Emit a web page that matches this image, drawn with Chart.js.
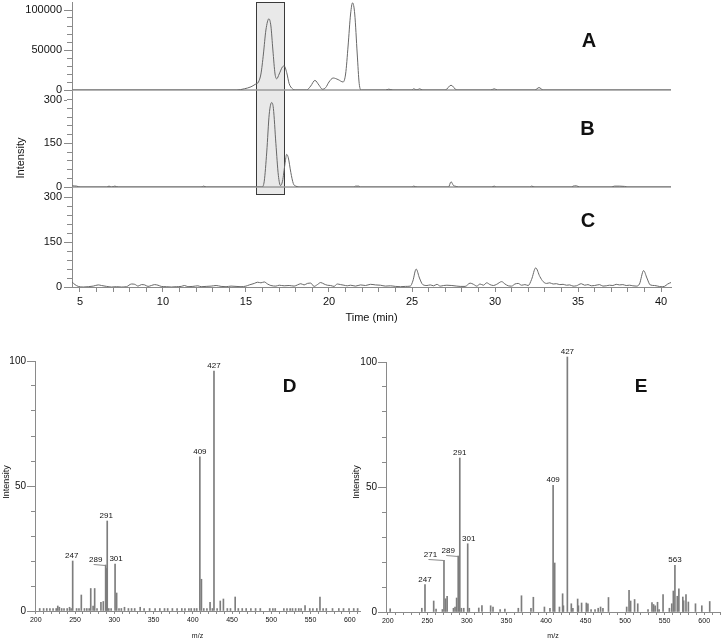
<!DOCTYPE html>
<html><head><meta charset="utf-8">
<script src="https://cdn.jsdelivr.net/npm/chart.js@4.4.1/dist/chart.umd.min.js"></script>
<style>
html,body{margin:0;padding:0;background:#fff;}
#wrap{position:relative;width:722px;height:640px;overflow:hidden;background:#fff;}
.box{position:absolute;}
</style></head><body>
<div id="wrap">
<div class="box" style="left:0;top:0;width:722px;height:330px"><canvas id="chrom"></canvas></div>
<div class="box" style="left:0;top:340px;width:361px;height:300px"><canvas id="specD"></canvas></div>
<div class="box" style="left:340px;top:340px;width:382px;height:300px"><canvas id="specE"></canvas></div>
</div>
<script>
// ---------------- DATA ----------------
// Chromatogram A: [time (min), intensity]
const traceA = [[4.52,0],[14.45,0],[14.9,1500],[15.3,4000],[15.55,7000],[15.75,10000],[15.9,20000],[16.05,45000],[16.2,75000],[16.38,89000],[16.5,80000],[16.62,50000],[16.75,20000],[16.85,14000],[17.0,20000],[17.2,29000],[17.3,30000],[17.45,22000],[17.6,8000],[17.8,1500],[18.0,0],[18.65,0],[18.9,5000],[19.15,12000],[19.4,6000],[19.6,1000],[19.8,3000],[20.0,10000],[20.25,15000],[20.55,13000],[20.85,10000],[21.0,20000],[21.15,55000],[21.3,95000],[21.42,109000],[21.55,95000],[21.7,45000],[21.82,8000],[21.95,0],[23.4,0],[23.6,1000],[23.85,0],[25.0,0],[25.1,1500],[25.3,0],[25.45,1500],[25.65,0],[27.0,0],[27.35,6000],[27.7,0],[29.75,0],[29.95,1500],[30.15,0],[32.4,0],[32.65,3000],[32.9,0],[40.6,0]];
// Chromatogram B
const traceB = [[4.52,4],[4.8,3],[5.0,0],[6.6,0],[6.75,3],[6.9,0],[7.1,3],[7.3,0],[12.3,0],[12.45,3],[12.6,0],[15.95,0],[16.1,20],[16.25,120],[16.4,250],[16.55,290],[16.65,270],[16.8,150],[16.95,40],[17.08,5],[17.2,20],[17.35,80],[17.45,112],[17.55,100],[17.7,50],[17.85,12],[18.0,3],[18.3,0],[21.5,0],[21.6,3],[21.8,3],[21.9,0],[25.0,0],[25.1,3],[25.3,0],[27.2,0],[27.35,18],[27.5,5],[27.6,3],[27.8,0],[29.8,0],[29.95,3],[30.1,0],[32.1,0],[32.2,3],[32.4,0],[34.6,0],[34.7,3],[34.9,4],[35.1,0],[37.0,0],[37.2,3],[37.5,3],[37.8,2],[38.0,0],[40.6,0]];
// Chromatogram C
const traceC = [[4.52,17],[4.7,8],[4.9,2],[5.2,0],[5.5,1],[5.8,3],[6.1,7],[6.3,5],[6.6,2],[6.9,0],[7.2,1],[7.5,0],[7.8,1],[8.1,10],[8.3,9],[8.5,3],[8.7,8],[8.9,7],[9.1,2],[9.3,5],[9.5,8],[9.7,6],[9.9,2],[10.2,1],[10.5,0],[10.8,1],[11.1,2],[11.3,5],[11.5,1],[11.8,2],[12.1,4],[12.3,1],[12.6,2],[12.9,3],[13.2,5],[13.5,2],[13.8,1],[14.1,3],[14.4,2],[14.7,1],[15.0,3],[15.2,7],[15.5,12],[15.7,16],[15.9,14],[16.1,17],[16.3,10],[16.5,5],[16.8,3],[17.0,6],[17.3,4],[17.6,5],[17.9,3],[18.1,7],[18.3,11],[18.5,7],[18.7,12],[18.9,13],[19.1,2],[19.3,8],[19.5,15],[19.7,10],[19.9,6],[20.1,5],[20.3,2],[20.5,10],[20.7,8],[20.9,6],[21.1,4],[21.3,6],[21.6,3],[21.9,7],[22.2,5],[22.5,9],[22.8,7],[23.1,6],[23.4,3],[23.7,4],[24.0,2],[24.3,1],[24.6,2],[24.9,3],[25.05,20],[25.25,60],[25.45,30],[25.65,8],[25.9,5],[26.1,7],[26.3,4],[26.5,9],[26.7,3],[26.9,5],[27.1,6],[27.4,5],[27.7,3],[27.9,2],[28.2,2],[28.5,13],[28.7,9],[28.9,3],[29.1,10],[29.3,6],[29.5,14],[29.7,8],[29.9,5],[30.1,9],[30.4,18],[30.6,10],[30.8,4],[31.0,3],[31.2,10],[31.4,12],[31.6,6],[31.8,8],[32.0,5],[32.2,25],[32.45,64],[32.7,35],[32.9,18],[33.1,12],[33.3,14],[33.5,10],[33.7,11],[33.9,8],[34.1,9],[34.3,6],[34.5,7],[34.7,3],[34.9,4],[35.2,11],[35.4,6],[35.6,8],[35.8,4],[36.0,5],[36.3,8],[36.5,3],[36.7,4],[36.9,6],[37.1,5],[37.3,9],[37.5,7],[37.7,8],[37.9,5],[38.1,6],[38.3,4],[38.5,3],[38.7,10],[38.95,55],[39.15,30],[39.35,7],[39.6,5],[39.8,3],[40.0,1],[40.2,2],[40.4,10],[40.6,15]];
const timeTickLabels = [5,10,15,20,25,30,35,40];
const tickLabelsA = [0,50000,100000];
const tickLabelsBC = [0,150,300];
const highlightStart = 15.58, highlightEnd = 17.29;

// Mass spectra: [m/z, relative intensity]
const spectrumD = [[205,1],[210,1],[214,1],[218,1],[222,1],[226,1],[228,2],[230,1.5],[233,1],[236,1],[240,1],[243,1.5],[245,1],[247,20],[252,1],[255,1],[258,6.4],[262,1],[265,1],[268,1],[270,9],[273,2],[275,9],[278,1],[283,3.5],[286,3.8],[289,18.4],[290,17],[291,36],[293,1],[296,1],[301,18.8],[303,7.2],[306,1],[309,1],[313,1.5],[318,1],[322,1],[326,1],[333,1.5],[338,1],[345,1],[352,1],[358,1],[364,1],[368,1],[374,1],[380,1],[386,1],[390,1],[395,1],[398,1],[402,1],[405,1],[409,61.7],[411,12.7],[414,1],[418,1],[422,3.5],[425,1],[427,96],[431,1],[435,4],[439,4.8],[444,1],[448,1],[454,5.6],[458,1],[463,1],[468,1],[474,1],[480,1],[486,1],[498,1],[502,1],[505,1],[516,1],[520,1],[524,1],[527,1],[531,1],[535,1],[538,1],[543,2.2],[549,1],[553,1],[558,1],[562,5.6],[566,1],[570,1],[578,1],[586,1],[592,1],[599,1],[605,1],[610,1]];
const spectrumE = [[203,1.3],[243,1.5],[247,11],[258,4.4],[261,1.2],[269,1],[271,20.7],[273,5.3],[275,6.3],[283,1.5],[285,2],[287,5.6],[289,22.4],[291,61.6],[293,1.5],[296,1.5],[301,27.3],[303,1.5],[315,1.6],[319,2.6],[330,2.5],[333,2],[342,1],[348,1.2],[365,1.5],[369,6.5],[381,1.5],[384,5.9],[398,2],[405,1.5],[409,50.7],[411,19.6],[417,2],[421,7.3],[422,2.5],[427,102],[432,3.3],[434,1.5],[440,5.2],[441,2.5],[445,3.6],[451,3.6],[453,3.3],[457,1],[462,1],[466,1.5],[469,2],[472,1.5],[479,5.8],[502,2],[505,8.7],[507,4.4],[512,5],[516,3.3],[529,1],[534,3.8],[536,3],[538,2.5],[541,3.9],[543,1],[548,7],[556,1.5],[559,3.3],[561,8.4],[563,18.7],[566,6.3],[568,9.3],[573,6],[574,4.5],[577,7],[580,4],[589,3.3],[597,2.5],[607,4.2]];
const labeledPeaksD = [247,289,291,301,409,427];
const labeledPeaksE = [247,271,289,291,301,409,427,563];
const mzTickLabels = [200,250,300,350,400,450,500,550,600];
const relTickLabels = [0,50,100];

// ---------------- STYLE ----------------
const FONT = "'Liberation Sans', Arial, Helvetica, sans-serif";
const AXIS = '#8a8a8a';
const TEXT = '#111';
const TRACE = '#686868';

function steps(a, b, s) { const r = []; for (let v = a; v <= b + 1e-9; v += s) r.push(+v.toFixed(6)); return r; }
const toXY = arr => arr.map(([x, y]) => ({x, y}));
function zeroPad(s) { s.paddingTop = 0; s.paddingBottom = 0; s.paddingLeft = 0; s.paddingRight = 0; }
function vText(ctx, text, x, y, font) {
  ctx.save(); ctx.translate(x, y); ctx.rotate(-Math.PI / 2);
  ctx.font = font; ctx.fillStyle = TEXT; ctx.textAlign = 'center'; ctx.textBaseline = 'middle';
  ctx.fillText(text, 0, 0); ctx.restore();
}
function hText(ctx, text, x, y, font) {
  ctx.save(); ctx.font = font; ctx.fillStyle = TEXT; ctx.textAlign = 'center'; ctx.textBaseline = 'middle';
  ctx.fillText(text, x, y); ctx.restore();
}
function majorTicks(ctx, scale, values, from, to) {
  ctx.save(); ctx.strokeStyle = AXIS; ctx.lineWidth = 1; ctx.beginPath();
  values.forEach(v => { const y = Math.round(scale.getPixelForValue(v)) + 0.5; ctx.moveTo(scale.right - from, y); ctx.lineTo(scale.right - to, y); });
  ctx.stroke(); ctx.restore();
}

// ---------------- CHROMATOGRAMS ----------------
function chromY(max, weight, stackWeight, minorStep, labels) {
  return {
    type: 'linear', position: 'left', stack: 'chrom', stackWeight, weight, min: 0, max,
    afterBuildTicks: s => { s.ticks = steps(0, labels[labels.length - 1], minorStep).map(v => ({value: v})); },
    afterFit: s => { s.width = 72; zeroPad(s); },
    grid: {drawOnChartArea: false, tickLength: 5, color: AXIS, lineWidth: 1},
    border: {color: AXIS, width: 1},
    ticks: {autoSkip: false, padding: 5, font: {size: 11, family: FONT}, color: TEXT,
      callback: v => labels.includes(v) ? String(v) : ''}
  };
}

const chromPlugin = {
  id: 'chromDecor',
  beforeDatasetsDraw(chart) {
    const {ctx, chartArea, scales: {x, yA, yB}} = chart;
    const x0 = Math.round(x.getPixelForValue(highlightStart)) + 0.5;
    const x1 = Math.round(x.getPixelForValue(highlightEnd)) + 0.5;
    const top = Math.round(yA.top) + 0.5, bottom = Math.round(yB.bottom + 7) + 0.5;
    ctx.save();
    ctx.fillStyle = '#e9e9e9'; ctx.fillRect(x0, top, x1 - x0, bottom - top);
    ctx.strokeStyle = '#3a3a3a'; ctx.lineWidth = 1; ctx.strokeRect(x0, top, x1 - x0, bottom - top);
    ctx.strokeStyle = '#9a9a9a'; ctx.lineWidth = 1.5; ctx.beginPath();
    [yA, yB].forEach(s => { const y = s.getPixelForValue(0); ctx.moveTo(chartArea.left, y); ctx.lineTo(chartArea.right, y); });
    ctx.stroke(); ctx.restore();
  },
  afterDraw(chart) {
    const {ctx, scales: {yA, yB, yC}} = chart;
    majorTicks(ctx, yA, tickLabelsA, 8, 5);
    majorTicks(ctx, yB, tickLabelsBC, 8, 5);
    majorTicks(ctx, yC, tickLabelsBC, 8, 5);
    vText(ctx, 'Intensity', 21, 158, `11px ${FONT}`);
    const big = `bold 20px ${FONT}`;
    hText(ctx, 'A', 589, 41, big);
    hText(ctx, 'B', 587.5, 129, big);
    hText(ctx, 'C', 588, 221, big);
  }
};

new Chart(document.getElementById('chrom'), {
  type: 'line',
  data: {datasets: [
    {data: toXY(traceA), yAxisID: 'yA'},
    {data: toXY(traceB), yAxisID: 'yB'},
    {data: toXY(traceC), yAxisID: 'yC'}
  ]},
  options: {
    responsive: true, maintainAspectRatio: false, animation: false, events: [],
    layout: {padding: {left: 0, top: 2, right: 51, bottom: 0}},
    plugins: {legend: {display: false}, tooltip: {enabled: false}},
    elements: {point: {radius: 0}, line: {borderWidth: 1, borderColor: TRACE, cubicInterpolationMode: 'monotone', fill: false}},
    scales: {
      x: {
        type: 'linear', position: 'bottom', min: 4.52, max: 40.6,
        afterBuildTicks: s => { s.ticks = steps(5, 40, 1).map(v => ({value: v})); },
        afterFit: s => { s.height = 43; zeroPad(s); },
        grid: {drawOnChartArea: false, tickLength: 5, color: AXIS},
        border: {color: AXIS, width: 1},
        ticks: {autoSkip: false, maxRotation: 0, padding: 3, font: {size: 11, family: FONT}, color: TEXT,
          callback: v => timeTickLabels.includes(v) ? String(v) : ''},
        title: {display: true, text: 'Time (min)', font: {size: 11, family: FONT}, color: TEXT, padding: {top: 0, bottom: 5}}
      },
      yC: chromY(335, 1, 100, 30, tickLabelsBC),
      yB: chromY(333, 2, 97, 30, tickLabelsBC),
      yA: chromY(110000, 3, 88, 10000, tickLabelsA)
    }
  },
  plugins: [chromPlugin]
});

// ---------------- SPECTRA ----------------
function spectrum(id, peaks, labeled, cfg) {
  const peakMap = new Map(peaks.map(([m, v]) => [m, v]));
  const plugin = {
    id: 'spec' + id,
    afterDraw(chart) {
      const {ctx, scales: {x, y}} = chart;
      majorTicks(ctx, y, relTickLabels, 8, 4);
      ctx.save();
      ctx.font = `8px ${FONT}`; ctx.fillStyle = TEXT; ctx.textAlign = 'center'; ctx.textBaseline = 'middle';
      ctx.strokeStyle = '#8a8a8a'; ctx.lineWidth = 1;
      labeled.forEach(m => {
        const px = x.getPixelForValue(m), py = y.getPixelForValue(peakMap.get(m));
        const dx = (cfg.labelDx[m] || 0);
        if (cfg.leaders[m] !== undefined) {
          const lx = px + cfg.leaders[m];
          ctx.beginPath(); ctx.moveTo(lx - 2, Math.round(py - 1) + 0.5); ctx.lineTo(px, Math.round(py) + 0.5); ctx.stroke();
          ctx.fillText(String(m), lx, py - 5);
        } else {
          ctx.fillText(String(m), px + dx, py - 5);
        }
      });
      ctx.restore();
      vText(ctx, 'Intensity', cfg.titleX, 142, `9px ${FONT}`);
      hText(ctx, cfg.letter, cfg.letterX, 47, `bold 19px ${FONT}`);
    }
  };
  return new Chart(document.getElementById(id), {
    type: 'bar',
    data: {datasets: [{data: toXY(peaks), backgroundColor: '#7d7d7d', borderWidth: 0, barThickness: 1, clip: false}]},
    options: {
      responsive: true, maintainAspectRatio: false, animation: false, events: [],
      layout: {padding: {left: 0, top: cfg.top, right: cfg.right, bottom: 0}},
      plugins: {legend: {display: false}, tooltip: {enabled: false}},
      scales: {
        x: {
          type: 'linear', offset: false, min: cfg.xmin, max: cfg.xmax,
          afterBuildTicks: s => { s.ticks = steps(200, cfg.lastTick, 10).map(v => ({value: v})); },
          afterFit: s => { s.height = cfg.xh; zeroPad(s); },
          grid: {offset: false, drawOnChartArea: false, tickLength: 3, color: AXIS},
          border: {color: AXIS, width: 1},
          ticks: {autoSkip: false, maxRotation: 0, padding: 2, font: {size: 7, family: FONT}, color: TEXT,
            callback: v => mzTickLabels.includes(v) ? String(v) : ''},
          title: {display: true, text: 'm/z', font: {size: 7, family: FONT}, color: TEXT, padding: {top: 0, bottom: 0}}
        },
        y: {
          type: 'linear', min: 0, max: 100,
          afterBuildTicks: s => { s.ticks = steps(0, 100, 10).map(v => ({value: v})); },
          afterFit: s => { s.width = cfg.yw; zeroPad(s); },
          grid: {drawOnChartArea: false, tickLength: 4, color: AXIS},
          border: {color: AXIS, width: 1},
          ticks: {autoSkip: false, padding: 5, font: {size: 10, family: FONT}, color: TEXT,
            callback: v => relTickLabels.includes(v) ? String(v) : ''}
        }
      }
    },
    plugins: [plugin]
  });
}

spectrum('specD', spectrumD, labeledPeaksD, {
  top: 21, right: 1, xh: 29, yw: 35, xmin: 199, xmax: 613, lastTick: 610,
  labelDx: {247: -1, 291: -1, 301: 1}, leaders: {289: -10},
  titleX: 7, letter: 'D', letterX: 289.5
});
spectrum('specE', spectrumE, labeledPeaksE, {
  top: 22, right: 2, xh: 28, yw: 46, xmin: 197.7, xmax: 620, lastTick: 620,
  labelDx: {301: 1}, leaders: {271: -13.5, 289: -10},
  titleX: 17, letter: 'E', letterX: 301
});
</script>
</body></html>
